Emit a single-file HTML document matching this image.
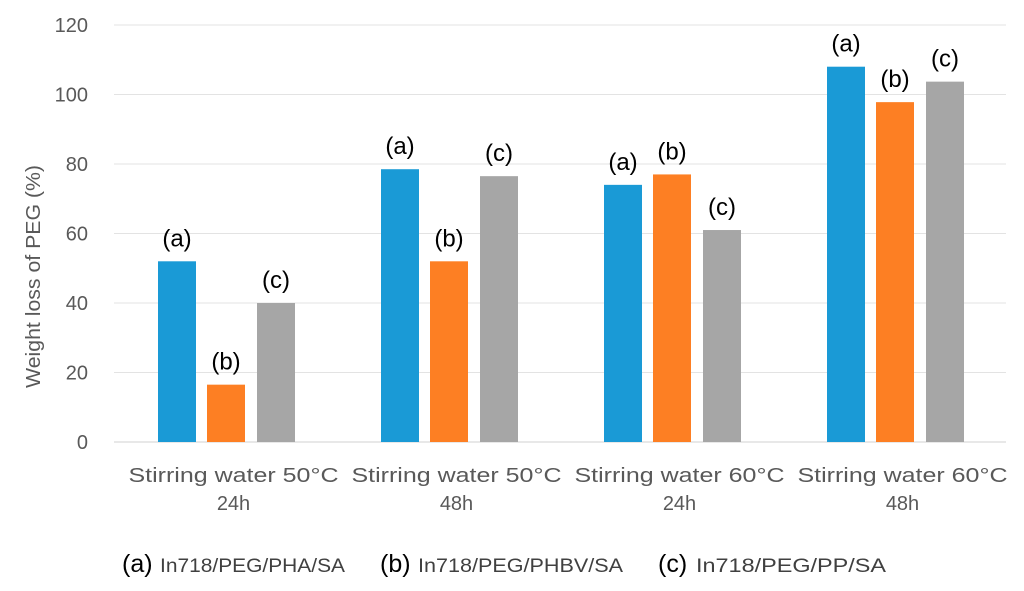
<!DOCTYPE html>
<html><head><meta charset="utf-8"><style>
body{margin:0;background:#fff;width:1024px;height:591px;overflow:hidden}
svg{display:block}
text{font-family:"Liberation Sans",sans-serif}
</style></head><body>
<svg id="chart" width="1024" height="591"></svg>
<script>
const categories = [["Stirring water 50°C","24h"],["Stirring water 50°C","48h"],["Stirring water 60°C","24h"],["Stirring water 60°C","48h"]];
const seriesA = [52, 78.5, 74, 108];
const seriesB = [16.5, 52, 77, 97.8];
const seriesC = [40, 76.5, 61, 103.7];
const seriesTags = ["(a)","(b)","(c)"];
const legendNames = ["In718/PEG/PHA/SA","In718/PEG/PHBV/SA","In718/PEG/PP/SA"];
const yTicks = [0,20,40,60,80,100,120];

const svg = document.getElementById('chart');
const NS = 'http://www.w3.org/2000/svg';
const colors = ['#1a9ad6','#fd7f23','#a6a6a6'];
const x0 = 114, catW = 223, y0 = 442, pxPer = (442-25)/120;
const yScale = v => y0 - v*pxPer;
const barW = 38, offs = [44, 93, 143];
function mk(tag, attrs, txt){const e=document.createElementNS(NS,tag);for(const k in attrs)e.setAttribute(k,attrs[k]);if(txt!=null)e.textContent=txt;svg.appendChild(e);return e;}

yTicks.forEach(t=>{
  const y=yScale(t);
  const g=mk('line',{x1:x0,x2:x0+catW*4,y1:y,y2:y,stroke:t===0?'#d0d0d0':'#e3e3e3','stroke-width':1});
  
  
  const l=mk('text',{x:88,y:y+7,'text-anchor':'end','font-size':20,fill:'#595959'},t);
  
  
});
const yt=mk('text',{x:-388,y:0,transform:'translate(40,0) rotate(-90)','font-size':20,fill:'#595959',textLength:223,lengthAdjust:'spacingAndGlyphs'},'Weight loss of PEG (%)');



const all=[seriesA,seriesB,seriesC];
categories.forEach((c,i)=>{
  all.forEach((s,j)=>{
    const bx=x0+i*catW+offs[j], by=yScale(s[i]);
    const r=mk('rect',{x:bx,y:by,width:barW,height:y0-by,fill:colors[j]});
    
    
    const t=mk('text',{x:bx+barW/2,y:by-15,'text-anchor':'middle','font-size':24,fill:'#000'},seriesTags[j]);
    
    
  });
  const cx=x0+i*catW+catW/2+8;
  c.forEach((line,k)=>{
    const attrs={x:cx,y:482+k*28,'text-anchor':'middle','font-size':20,fill:'#595959'};
    if(k===0){attrs.textLength=210;attrs.lengthAdjust='spacingAndGlyphs';}
    const t=mk('text',attrs,line);
    
    
  });
});
const lx=[122,380,658];
const lw=[185,205,190];
legendNames.forEach((n,j)=>{
  const a=mk('text',{x:lx[j],y:572,'font-size':25,fill:'#000'},seriesTags[j]);
  
  
  const b=mk('text',{x:lx[j]+38,y:572,'font-size':19,fill:'#404040',textLength:lw[j],lengthAdjust:'spacingAndGlyphs'},n);
  
  
});
</script>
</body></html>
